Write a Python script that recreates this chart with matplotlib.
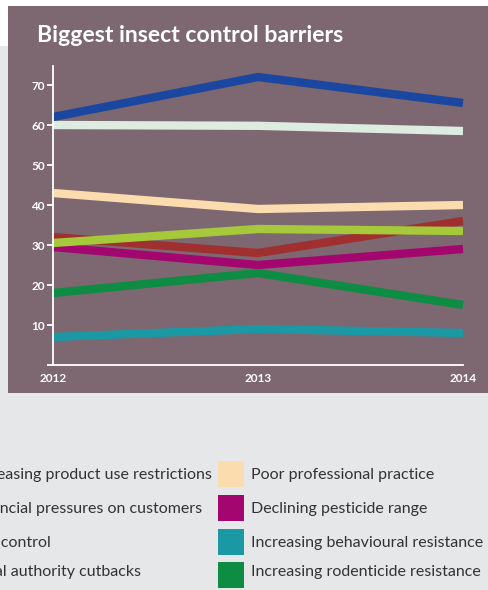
import matplotlib
matplotlib.use("Agg")
import matplotlib.pyplot as plt
from matplotlib.patches import Rectangle

plt.rcParams['font.family'] = ['Lato', 'DejaVu Sans']

years = [2012, 2013, 2014]

# series values (percent)
product_restrictions = [62, 72, 65.5]
financial_pressures = [60, 59.8, 58.5]
diy_control = [32, 28, 36]
local_authority = [30.5, 34, 33.5]
poor_practice = [43, 39, 40]
pesticide_range = [29.5, 25, 29]
behavioural_resistance = [7, 9, 8]
rodenticide_resistance = [18, 23, 15]

left_labels = ['Increasing product use restrictions', 'Financial pressures on customers',
               'DIY control', 'Local authority cutbacks']
right_labels = ['Poor professional practice', 'Declining pesticide range',
                'Increasing behavioural resistance', 'Increasing rodenticide resistance']

panel_bg = '#7d6770'
page_bg = '#e6e7e9'
col_blue = '#1c47a0'
col_mint = '#dcece0'
col_red = '#a0302f'
col_lime = '#a5c93a'
col_peach = '#fbdcae'
col_magenta = '#a3076f'
col_teal = '#1a99a5'
col_green = '#0e8c44'

W, H = 488, 590
fig = plt.figure(figsize=(W / 100, H / 100), dpi=100, facecolor=page_bg)

# white strip at the top, mauve panel behind the chart
fig.patches.append(Rectangle((0, (H - 46) / H), 1, 46 / H, transform=fig.transFigure,
                             facecolor='white', edgecolor='none', zorder=-3))
fig.patches.append(Rectangle((8 / W, (H - 392.5) / H), 1, (392.5 - 6) / H,
                             transform=fig.transFigure, facecolor=panel_bg,
                             edgecolor='none', zorder=-2))

fig.text(37 / W, (H - 35) / H, 'Biggest insect control barriers', color='white',
         fontsize=16.6, fontweight='bold', va='center', ha='left')

ax = fig.add_axes([53 / W, (H - 365) / H, (463 - 53) / W, (365 - 66) / H])
ax.set_facecolor('none')

series = [
    (behavioural_resistance, col_teal),
    (pesticide_range, col_magenta),
    (rodenticide_resistance, col_green),
    (diy_control, col_red),
    (local_authority, col_lime),
    (poor_practice, col_peach),
    (financial_pressures, col_mint),
    (product_restrictions, col_blue),
]
for vals, c in series:
    ax.plot(years, vals, color=c, lw=6, solid_capstyle='butt',
            solid_joinstyle='miter', clip_on=False)

ax.set_xlim(2012, 2014)
ax.set_ylim(0, 74.75)
ax.set_yticks(range(0, 80, 10))
ax.set_yticklabels([''] + [str(v) for v in range(10, 80, 10)])
ax.set_xticks(years)
ax.set_xticklabels([str(y) for y in years])
for s in ['top', 'right']:
    ax.spines[s].set_visible(False)
for s in ['left', 'bottom']:
    ax.spines[s].set_color('white')
    ax.spines[s].set_linewidth(1.3)
ax.tick_params(axis='y', colors='white', length=4, width=1.3, pad=2, labelsize=8.5)
ax.tick_params(axis='x', colors='white', length=0, pad=6, labelsize=8.5)
for lab in ax.get_xticklabels() + ax.get_yticklabels():
    lab.set_fontweight('bold')

# legend (left column runs off the left edge of the crop)
row_text_y = [475, 509, 543, 572]
row_box_top = [461, 495, 529, 562]
left_colors = [col_blue, col_mint, col_red, col_lime]
right_colors = [col_peach, col_magenta, col_teal, col_green]
fs = 11.5

r = fig.canvas.get_renderer()
probe = fig.text(0, 0, left_labels[0], fontsize=fs)
wpx = probe.get_window_extent(r).width
probe.remove()
left_x = 212 - wpx

for i in range(4):
    fig.text(left_x / W, (H - row_text_y[i]) / H, left_labels[i], fontsize=fs,
             color='#333333', va='center', ha='left')
    fig.patches.append(Rectangle(((left_x - 33) / W, (H - row_box_top[i] - 26) / H),
                                 26 / W, 26 / H, transform=fig.transFigure,
                                 facecolor=left_colors[i], edgecolor='none'))
    fig.patches.append(Rectangle((218 / W, (H - row_box_top[i] - 26) / H), 26 / W, 26 / H,
                                 transform=fig.transFigure, facecolor=right_colors[i],
                                 edgecolor='none'))
    fig.text(251 / W, (H - row_text_y[i]) / H, right_labels[i], fontsize=fs,
             color='#333333', va='center', ha='left')

fig.savefig('out.png', dpi=100, facecolor=page_bg)
